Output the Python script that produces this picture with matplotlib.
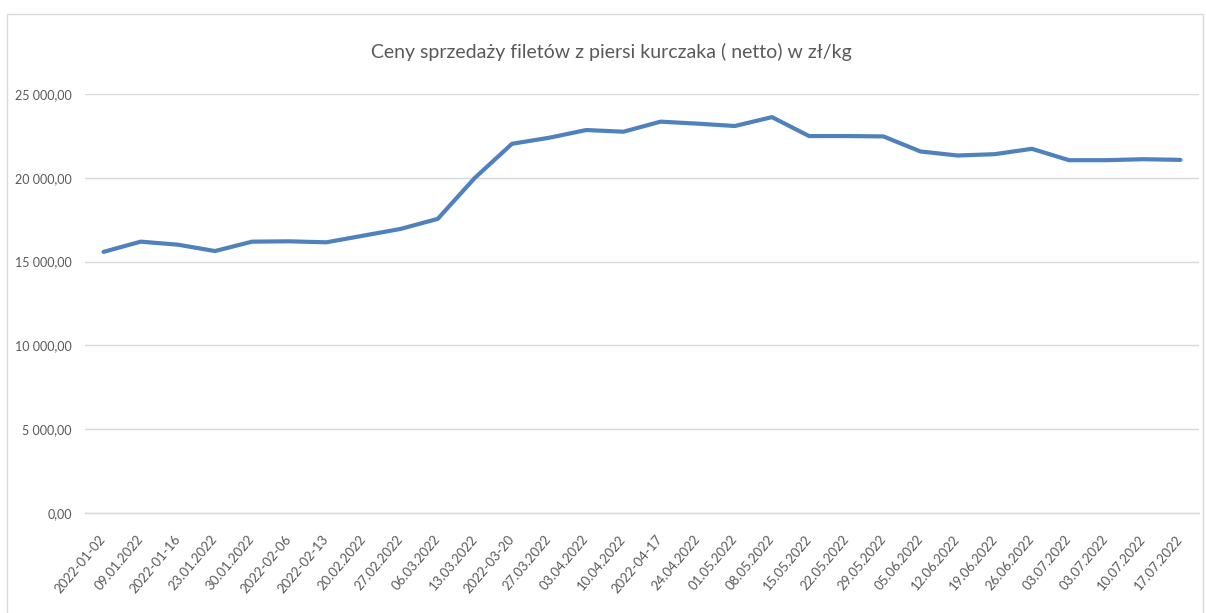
import matplotlib
matplotlib.use("Agg")
import matplotlib.pyplot as plt
from matplotlib.patches import Rectangle
from matplotlib.ticker import FuncFormatter, MultipleLocator

dates = ["2022-01-02", "09.01.2022", "2022-01-16", "23.01.2022", "30.01.2022",
         "2022-02-06", "2022-02-13", "20.02.2022", "27.02.2022", "06.03.2022",
         "13.03.2022", "2022-03-20", "27.03.2022", "03.04.2022", "10.04.2022",
         "2022-04-17", "24.04.2022", "01.05.2022", "08.05.2022", "15.05.2022",
         "22.05.2022", "29.05.2022", "05.06.2022", "12.06.2022", "19.06.2022",
         "26.06.2022", "03.07.2022", "03.07.2022", "10.07.2022", "17.07.2022"]
prices = [15580, 16190, 16010, 15630, 16190, 16210, 16150, 16550, 16950, 17550,
          20000, 22030, 22390, 22850, 22750, 23350, 23230, 23090, 23620, 22490,
          22490, 22470, 21570, 21330, 21410, 21730, 21050, 21050, 21110, 21070]
title = "Ceny sprzedaży filetów z piersi kurczaka ( netto) w zł/kg"

plt.rcParams["font.family"] = ["Lato", "DejaVu Sans"]

W, H = 1206, 613
fig = plt.figure(figsize=(W / 100, H / 100), dpi=100)

# chart border
fig.patches.append(Rectangle((7 / W, -0.05), (1203 - 7) / W, 1.05 - 14 / H,
                             transform=fig.transFigure, fill=False,
                             edgecolor="#d9d9d9", linewidth=1.0))

left, right, top, bottom = 85, 1199, 94, 513
ax = fig.add_axes([left / W, 1 - bottom / H, (right - left) / W, (bottom - top) / H])

x = list(range(len(dates)))
ax.plot(x, prices, color="#4f81bd", linewidth=3.0,
        solid_capstyle="round", solid_joinstyle="round", zorder=3)

ax.set_xlim(-0.5, len(dates) - 0.5)
ax.set_ylim(0, 25000)
ax.yaxis.set_major_locator(MultipleLocator(5000))

def fmt(v, pos):
    s = f"{v:,.2f}"
    return s.replace(",", " ").replace(".", ",")

ax.yaxis.set_major_formatter(FuncFormatter(fmt))
ax.grid(axis="y", color="#d9d9d9", linewidth=1.0)
ax.set_axisbelow(True)
for s in ["top", "right", "left"]:
    ax.spines[s].set_visible(False)
ax.spines["bottom"].set_color("#d9d9d9")
ax.spines["bottom"].set_linewidth(1.0)

ax.set_xticks(x)
ax.set_xticklabels(dates, rotation=50, ha="right", va="center",
                   rotation_mode="anchor", fontsize=9.5, color="#595959")
ax.tick_params(axis="x", length=0, pad=17)
ax.tick_params(axis="y", length=0, pad=9.5, labelsize=9, labelcolor="#595959")

fig.text(611 / W, 1 - 52 / H, title, ha="center", va="center",
         fontsize=14, color="#595959")

fig.savefig("out.png", dpi=100, facecolor="white")
